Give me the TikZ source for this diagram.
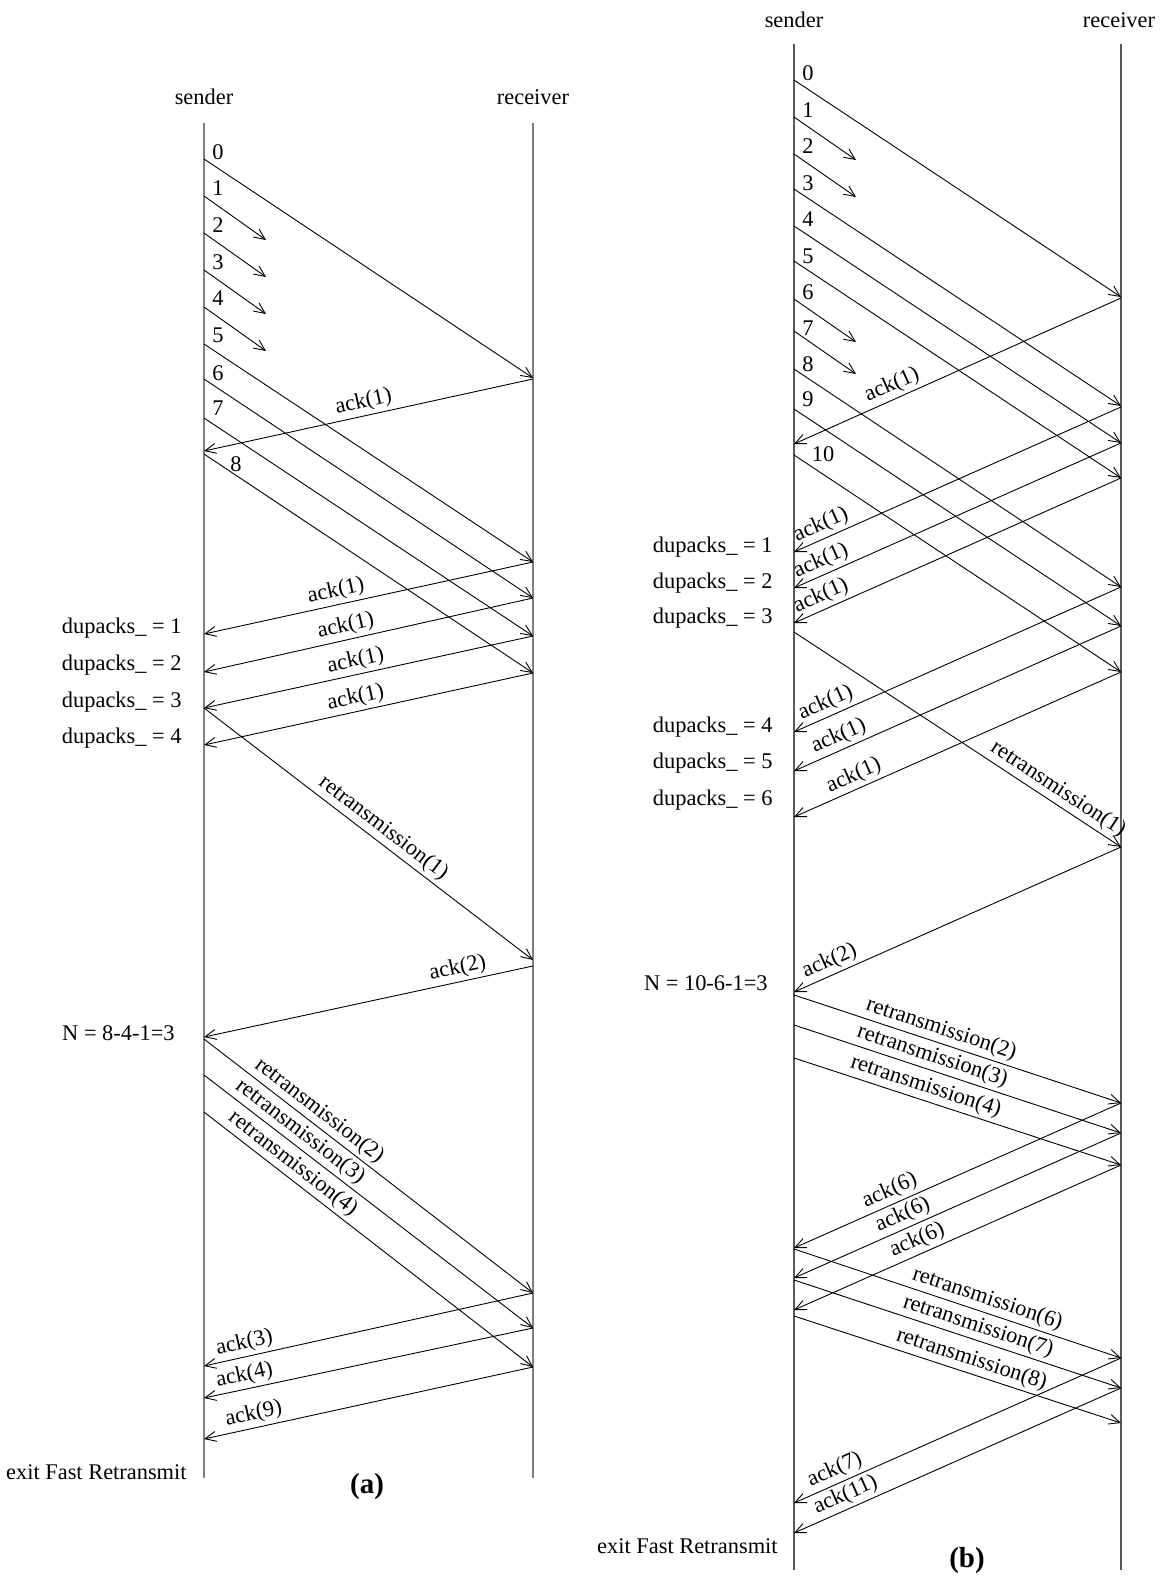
\documentclass[tikz,border=0pt]{standalone}
\usepackage{fontspec}
\setmainfont{Liberation Serif}
\usetikzlibrary{arrows.meta}
\newcommand\Msg[6]{%
  \coordinate (#1-s) at (#2,#3);
  \coordinate (#1-e) at (#4,#5);
  \draw[msg] (#1-s) -- #6 (#1-e);}
\begin{document}
\begin{tikzpicture}[x=0.5pt,y=-0.5pt,
  font=\fontsize{11.2}{13}\selectfont,
  lifea/.style={draw=black!50,line width=1pt},
  lifeb/.style={draw=black!65,line width=0.9pt},
  msg/.style={draw=black,line width=0.45pt,-{Straight Barb[length=5.5pt,width=5pt]}},
  lbl/.style={inner sep=0pt},
  mlbl/.style={sloped,above,inner sep=1.5pt},
  captext/.style={inner sep=0pt,font=\fontsize{14.5}{17}\selectfont\bfseries}]
\useasboundingbox (0,0) rectangle (1162,1577);

% ================= (a) =================
\node[lbl] (aSend) at (204,97) {sender};
\node[lbl] (aRecv) at (533,97) {receiver};
\coordinate (aS-top) at (204,123); \coordinate (aS-bot) at (204,1478);
\coordinate (aR-top) at (533,123); \coordinate (aR-bot) at (533,1478);
\draw[lifea] (aS-top) -- (aS-bot);
\draw[lifea] (aR-top) -- (aR-bot);

\foreach \i/\y in {0/152,1/188,2/225,3/262,4/298,5/335,6/373,7/408}
  \node[lbl] (aN\i) at (218,\y) {\i};
\node[lbl] (aN8) at (236,464) {8};

% long data packets
\foreach \i/\s/\e in {0/159/378,5/344/562,6/379/598,7/418/636,8/454/673}
  \Msg{ad\i}{204}{\s}{533}{\e}{};
% lost packets
\foreach \i/\s in {1/196,2/233,3/270,4/307}
  \Msg{ad\i}{204}{\s}{266}{\s+44}{};

% acks
\Msg{aa0}{533}{379}{204}{451}{node[mlbl,pos=.506]{ack(1)}}
\Msg{aa1}{533}{562}{204}{634}{node[mlbl,pos=.59]{ack(1)}}
\Msg{aa2}{533}{598}{204}{672}{node[mlbl,pos=.56]{ack(1)}}
\Msg{aa3}{533}{636}{204}{708}{node[mlbl,pos=.53]{ack(1)}}
\Msg{aa4}{533}{673}{204}{745}{node[mlbl,pos=.53]{ack(1)}}

\node[lbl,anchor=east] (aD1) at (182,628) {dupacks\_ = 1};
\node[lbl,anchor=east] (aD2) at (182,665) {dupacks\_ = 2};
\node[lbl,anchor=east] (aD3) at (182,702) {dupacks\_ = 3};
\node[lbl,anchor=east] (aD4) at (182,738) {dupacks\_ = 4};

\Msg{ar1}{204}{708}{533}{960}{node[mlbl,pos=.52]{retransmission(1)}}
\Msg{aa5}{533}{966}{204}{1037}{node[mlbl,pos=.22]{ack(2)}}
\node[lbl,anchor=east] (aNN) at (175,1033) {N = 8-4-1=3};

\Msg{ar2}{204}{1039}{533}{1293}{node[mlbl,pos=.325]{retransmission(2)}}
\Msg{ar3}{204}{1075}{533}{1328}{node[mlbl,pos=.267]{retransmission(3)}}
\Msg{ar4}{204}{1112}{533}{1367}{node[mlbl,pos=.245]{retransmission(4)}}

\Msg{aa6}{533}{1293}{204}{1366}{node[mlbl,pos=.868]{ack(3)}}
\Msg{aa7}{533}{1328}{204}{1398}{node[mlbl,pos=.868]{ack(4)}}
\Msg{aa8}{533}{1367}{204}{1439}{node[mlbl,pos=.84]{ack(9)}}

\node[lbl,anchor=east] (aExit) at (187,1472) {exit Fast Retransmit};
\node[captext] (aCap) at (367,1487) {(a)};

% ================= (b) =================
\node[lbl] (bSend) at (794,20) {sender};
\node[lbl] (bRecv) at (1119,20) {receiver};
\coordinate (bS-top) at (794,44); \coordinate (bS-bot) at (794,1570);
\coordinate (bR-top) at (1121,44); \coordinate (bR-bot) at (1121,1570);
\draw[lifeb] (bS-top) -- (bS-bot);
\draw[lifeb] (bR-top) -- (bR-bot);

\foreach \i/\y in {0/73,1/110,2/146,3/183,4/219,5/256,6/292,7/328,8/364,9/399}
  \node[lbl] (bN\i) at (808,\y) {\i};
\node[lbl] (bN10) at (823,454) {10};

\foreach \i/\s/\e in {0/80/297,3/189/406,4/226/443,5/261/478,8/369/587,9/409/626,10/455/672}
  \Msg{bd\i}{794}{\s}{1121}{\e}{};
\foreach \i/\s in {1/117,2/154,6/299,7/331}
  \Msg{bd\i}{794}{\s}{856}{\s+43}{};

\Msg{ba0}{1121}{298}{794}{444}{node[mlbl,pos=.683]{ack(1)}}
\Msg{ba1}{1121}{407}{794}{552}{node[mlbl,pos=.90]{ack(1)}}
\Msg{ba2}{1121}{443}{794}{588}{node[mlbl,pos=.90]{ack(1)}}
\Msg{ba3}{1121}{478}{794}{623}{node[mlbl,pos=.90]{ack(1)}}
\Msg{ba4}{1121}{587}{794}{732}{node[mlbl,pos=.886]{ack(1)}}
\Msg{ba5}{1121}{626}{794}{771}{node[mlbl,pos=.846]{ack(1)}}
\Msg{ba6}{1121}{672}{794}{817}{node[mlbl,pos=.80]{ack(1)}}

\node[lbl,anchor=east] (bD1) at (773,547) {dupacks\_ = 1};
\node[lbl,anchor=east] (bD2) at (773,583) {dupacks\_ = 2};
\node[lbl,anchor=east] (bD3) at (773,618) {dupacks\_ = 3};
\node[lbl,anchor=east] (bD4) at (773,727) {dupacks\_ = 4};
\node[lbl,anchor=east] (bD5) at (773,763) {dupacks\_ = 5};
\node[lbl,anchor=east] (bD6) at (773,800) {dupacks\_ = 6};

\Msg{br1}{794}{632}{1121}{847}{node[mlbl,pos=.785]{retransmission(1)}}
\Msg{ba7}{1121}{847}{794}{992}{node[mlbl,pos=.874]{ack(2)}}
\node[lbl,anchor=east] (bNN) at (768,983) {N = 10-6-1=3};

\Msg{br2}{794}{995}{1121}{1103}{node[mlbl,pos=.437]{retransmission(2)}}
\Msg{br3}{794}{1025}{1121}{1133}{node[mlbl,pos=.41]{retransmission(3)}}
\Msg{br4}{794}{1058}{1121}{1165}{node[mlbl,pos=.39]{retransmission(4)}}

\Msg{ba8}{1121}{1103}{794}{1248}{node[mlbl,pos=.69]{ack(6)}}
\Msg{ba9}{1121}{1133}{794}{1278}{node[mlbl,pos=.65]{ack(6)}}
\Msg{ba10}{1121}{1165}{794}{1310}{node[mlbl,pos=.606]{ack(6)}}

\Msg{br6}{794}{1249}{1121}{1358}{node[mlbl,pos=.578]{retransmission(6)}}
\Msg{br7}{794}{1280}{1121}{1388}{node[mlbl,pos=.55]{retransmission(7)}}
\Msg{br8}{794}{1316}{1121}{1423}{node[mlbl,pos=.53]{retransmission(8)}}

\Msg{ba11}{1121}{1358}{794}{1503}{node[mlbl,pos=.858]{ack(7)}}
\Msg{ba12}{1121}{1388}{794}{1533}{node[mlbl,pos=.825]{ack(11)}}

\node[lbl,anchor=east] (bExit) at (778,1546) {exit Fast Retransmit};
\node[captext] (bCap) at (967,1561) {(b)};
\end{tikzpicture}
\end{document}
